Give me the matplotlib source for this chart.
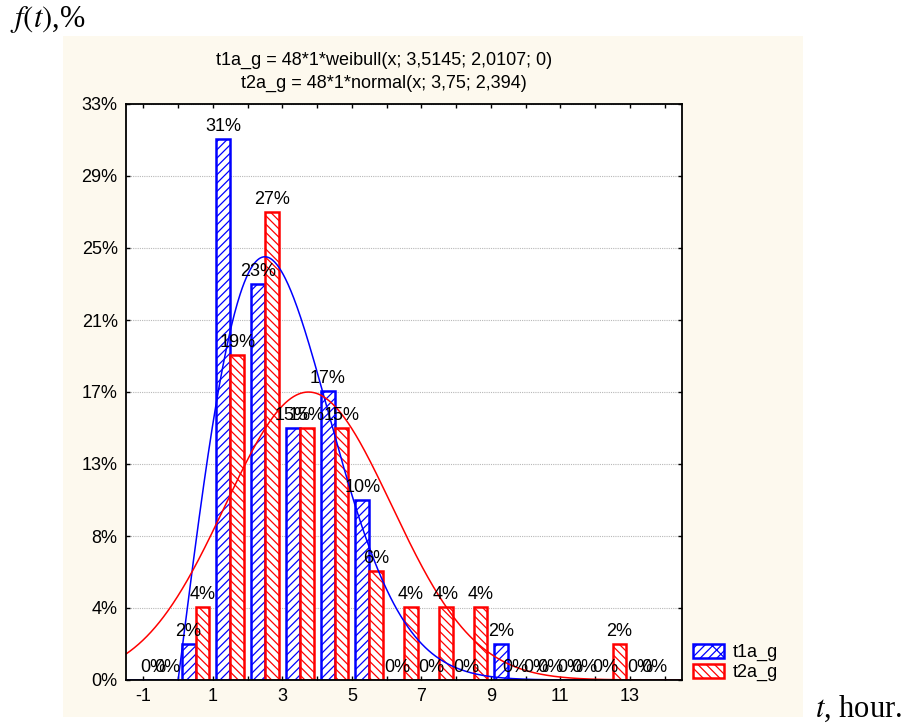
import numpy as np
import matplotlib
matplotlib.use("Agg")
import matplotlib.pyplot as plt
from matplotlib.patches import Rectangle, Patch
from matplotlib.ticker import FixedLocator, FixedFormatter, NullFormatter

# ---------------- data ----------------
categories = [-0.5, 0.5, 1.5, 2.5, 3.5, 4.5, 5.5, 6.5, 7.5, 8.5, 9.5, 10.5, 11.5, 12.5, 13.5]
t1a_g_pct = [0, 2.1, 31.3, 22.9, 14.6, 16.7, 10.4, 0, 0, 0, 2.1, 0, 0, 0, 0]
t2a_g_pct = [0, 4.2, 18.8, 27.1, 14.6, 14.6, 6.3, 4.2, 4.2, 4.2, 0, 0, 0, 2.1, 0]

y_tick_values = [0, 4.1667, 8.3333, 12.5, 16.6667, 20.8333, 25, 29.1667, 33.3333]
y_tick_labels = ["0%", "4%", "8%", "13%", "17%", "21%", "25%", "29%", "33%"]
x_major_ticks = [-1, 1, 3, 5, 7, 9, 11, 13]
x_major_labels = ["-1", "1", "3", "5", "7", "9", "11", "13"]
x_minor_ticks = [0, 2, 4, 6, 8, 10, 12, 14]

# fitted distributions (parameters shown in chart title)
n_obs = 48
bin_w = 1
weib_scale, weib_shape, weib_loc = 3.5145, 2.0107, 0.0
norm_mean, norm_sd = 3.75, 2.394

title1 = "t1a_g = 48*1*weibull(x; 3,5145; 2,0107; 0)"
title2 = "t2a_g = 48*1*normal(x; 3,75; 2,394)"
series_names = ["t1a_g", "t2a_g"]

# ---------------- style ----------------
plt.rcParams["font.family"] = ["Liberation Sans", "DejaVu Sans"]
plt.rcParams["mathtext.fontset"] = "stix"
plt.rcParams["hatch.linewidth"] = 0.9
FS = 13

W, H = 911, 726
fig = plt.figure(figsize=(W / 100, H / 100), dpi=100, facecolor="white")

# cream panel
fig.patches.append(Rectangle((63 / W, 1 - 717 / H), 740 / W, 681 / H,
                             transform=fig.transFigure, facecolor="#FDF9EE",
                             edgecolor="none", zorder=-10))

ax = fig.add_axes([126 / W, 1 - 680 / H, 556 / W, 576 / H])
ax.set_facecolor("white")

blue = "#0000FF"
red = "#FF0000"
cats = np.array(categories)
bw = 0.4
ax.bar(cats - bw / 2, t1a_g_pct, width=bw, facecolor="white", edgecolor=blue,
       hatch="////", linewidth=1.8, zorder=3)
ax.bar(cats + bw / 2, t2a_g_pct, width=bw, facecolor="white", edgecolor=red,
       hatch="\\\\\\\\", linewidth=1.8, zorder=3)

for x, v in zip(cats - bw / 2, t1a_g_pct):
    ax.annotate(f"{v:.0f}%", (x, v), xytext=(0, 3), textcoords="offset points",
                ha="center", va="bottom", fontsize=FS, zorder=6)
for x, v in zip(cats + bw / 2, t2a_g_pct):
    ax.annotate(f"{v:.0f}%", (x, v), xytext=(0, 3), textcoords="offset points",
                ha="center", va="bottom", fontsize=FS, zorder=6)

# fitted curves (in percent of n_obs)
xs = np.linspace(-1.5, 14.5, 800)
z = np.clip((xs - weib_loc) / weib_scale, 0, None)
weib = np.where(xs > weib_loc,
                (weib_shape / weib_scale) * z ** (weib_shape - 1) * np.exp(-z ** weib_shape), 0.0)
norm = np.exp(-0.5 * ((xs - norm_mean) / norm_sd) ** 2) / (norm_sd * np.sqrt(2 * np.pi))
ax.plot(xs, n_obs * bin_w * weib / n_obs * 100, color=blue, lw=1.1, zorder=5)
ax.plot(xs, n_obs * bin_w * norm / n_obs * 100, color=red, lw=1.1, zorder=5)

ax.set_xlim(-1.5, 14.5)
ax.set_ylim(0, 33.3333)

ax.yaxis.set_major_locator(FixedLocator(y_tick_values))
ax.yaxis.set_major_formatter(FixedFormatter(y_tick_labels))
ax.xaxis.set_major_locator(FixedLocator(x_major_ticks))
ax.xaxis.set_major_formatter(FixedFormatter(x_major_labels))
ax.xaxis.set_minor_locator(FixedLocator(x_minor_ticks))
ax.xaxis.set_minor_formatter(NullFormatter())

ax.tick_params(which="both", direction="in", top=True, right=True, length=3,
               width=1, labelsize=FS, pad=6, colors="black")
ax.yaxis.grid(True, color="#B8B8B8", linestyle=(0, (1, 1)), linewidth=0.8, zorder=0)
ax.set_axisbelow(True)
for s in ax.spines.values():
    s.set_linewidth(1.3)
    s.set_color("black")
    s.set_zorder(7)

# titles
fig.text(384 / W, 1 - 60 / H, title1, ha="center", va="center", fontsize=FS)
fig.text(384 / W, 1 - 83 / H, title2, ha="center", va="center", fontsize=FS)

# legend
handles = [Patch(facecolor="white", edgecolor=blue, hatch="////\\", linewidth=1.8),
           Patch(facecolor="white", edgecolor=red, hatch="\\\\\\\\", linewidth=1.8)]
fig.legend(handles, series_names, loc="upper left",
           bbox_to_anchor=(693 / W, 1 - 644 / H), bbox_transform=fig.transFigure,
           frameon=False, fontsize=FS, handlelength=1.7, handleheight=0.8,
           handletextpad=0.5, labelspacing=0.15, borderpad=0, borderaxespad=0)

# axis captions
fig.text(10 / W, 1 - 27 / H, "$f(t)$,%", ha="left", va="baseline", fontsize=22,
         family=["Liberation Serif", "DejaVu Serif"])
fig.text(815 / W, 1 - 717 / H, "$t$, hour.", ha="left", va="baseline", fontsize=22,
         family=["Liberation Serif", "DejaVu Serif"])

fig.savefig("out.png", dpi=100, facecolor="white")
